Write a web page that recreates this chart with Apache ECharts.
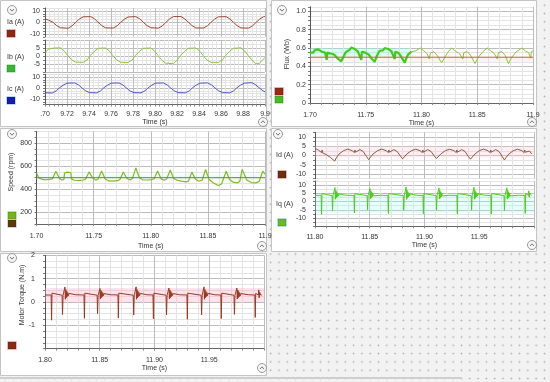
<!DOCTYPE html>
<html><head><meta charset="utf-8">
<script src="https://cdn.jsdelivr.net/npm/echarts@6/dist/echarts.min.js"></script>
<style>
html,body{margin:0;padding:0;background:#f2f2f2;}
#c{width:550px;height:382px;background-color:#f2f2f2;background-image:radial-gradient(circle,#b0b0b0 0.7px,rgba(0,0,0,0) 1.1px);background-size:8.3px 8.3px;background-position:1px 1px;}
</style></head><body><div id="c"></div>
<script>
// ---------- data ----------
const iaData = [[9.700,3.2],[9.7035,1.8],[9.7071,0.3],[9.7106,-2.8],[9.7141,-4.7],[9.7211,-5.1],[9.7246,-3.0],[9.7276,-0.3],[9.7311,2.8],[9.7346,4.8],[9.7416,5.0],[9.7451,3.0],[9.7481,0.3],[9.7516,-2.8],[9.7551,-4.8],[9.7621,-4.9],[9.7656,-3.0],[9.7686,-0.2],[9.7721,2.7],[9.7756,4.7],[9.7826,5.0],[9.7861,3.1],[9.7891,0.3],[9.7926,-2.7],[9.7961,-4.6],[9.8031,-5.0],[9.8066,-3.1],[9.8096,-0.3],[9.8131,2.9],[9.8166,5.0],[9.8236,5.1],[9.8271,3.0],[9.8301,0.4],[9.8336,-2.8],[9.8371,-4.8],[9.8441,-4.9],[9.8476,-3.0],[9.8506,-0.3],[9.8541,2.8],[9.8576,4.8],[9.8646,5.0],[9.8681,3.0],[9.8711,0.3],[9.8746,-2.8],[9.8781,-4.8],[9.8851,-5.0],[9.8886,-3.0],[9.8916,-0.3],[9.8951,2.8],[9.8986,4.9],[9.900,5.0]];
const ibData = [[9.700,2.2],[9.7035,4.4],[9.7072,4.9],[9.7142,5.1],[9.7177,3.0],[9.7207,0.3],[9.7242,-2.4],[9.7277,-3.8],[9.7347,-4.0],[9.7382,-2.5],[9.7412,0.3],[9.7447,2.8],[9.7482,4.8],[9.7552,5.0],[9.7587,3.0],[9.7617,0.3],[9.7652,-2.5],[9.7687,-3.9],[9.7757,-4.0],[9.7792,-2.5],[9.7822,0.3],[9.7857,2.8],[9.7892,4.8],[9.7962,5.0],[9.7997,3.0],[9.8027,0.3],[9.8062,-2.6],[9.8097,-4.5],[9.8167,-4.8],[9.8202,-2.6],[9.8232,0.3],[9.8267,2.8],[9.8302,4.8],[9.8372,5.0],[9.8407,3.0],[9.8437,0.3],[9.8472,-2.5],[9.8507,-3.9],[9.8577,-4.0],[9.8612,-2.5],[9.8642,0.3],[9.8677,2.8],[9.8712,4.8],[9.8782,5.1],[9.8817,3.0],[9.8847,0.3],[9.8882,-2.6],[9.8917,-4.9],[9.8947,-4.6],[9.900,-1.0]];
const icData = [[9.700,-4.3],[9.7067,-4.5],[9.7102,-2.6],[9.7132,0.2],[9.7165,2.6],[9.720,4.4],[9.727,4.6],[9.7305,2.8],[9.7335,0.2],[9.737,-2.6],[9.7405,-4.2],[9.747,-4.4],[9.7505,-2.6],[9.7535,0.2],[9.7568,2.6],[9.7603,4.4],[9.7673,4.6],[9.7708,2.8],[9.7738,0.2],[9.7773,-2.6],[9.7808,-4.2],[9.7873,-4.4],[9.7908,-2.6],[9.7938,0.2],[9.7971,2.6],[9.8006,4.4],[9.8076,4.6],[9.8111,2.8],[9.8141,0.2],[9.8176,-2.6],[9.8211,-4.2],[9.8276,-4.4],[9.8311,-2.6],[9.8341,0.2],[9.8374,2.6],[9.8409,4.4],[9.8479,4.6],[9.8514,2.8],[9.8544,0.2],[9.8579,-2.6],[9.8614,-4.2],[9.8679,-4.4],[9.8714,-2.6],[9.8744,0.2],[9.8777,2.6],[9.8812,4.4],[9.8882,4.8],[9.8917,2.8],[9.8947,0.2],[9.8982,-2.6],[9.900,-3.5]];

const fluxRef = [[11.70,0.5],[11.90,0.5]];
const fluxNoisy = [[11.700,0.55],[11.7015,0.57],[11.703,0.55],[11.7045,0.58],[11.706,0.56],[11.7075,0.585],[11.709,0.58],[11.7105,0.56],[11.712,0.57],[11.7135,0.55],[11.715,0.47],[11.7155,0.55],[11.717,0.56],[11.7185,0.54],[11.720,0.555],[11.7215,0.53],[11.723,0.52],[11.7245,0.49],[11.726,0.48],[11.728,0.455],[11.7295,0.49],[11.731,0.53],[11.7325,0.56],[11.734,0.575],[11.7355,0.58],[11.737,0.605],[11.7385,0.585],[11.740,0.59],[11.7415,0.57],[11.743,0.56],[11.7445,0.55],[11.746,0.47],[11.7465,0.56],[11.748,0.57],[11.7495,0.55],[11.751,0.56],[11.7525,0.53],[11.754,0.51],[11.7555,0.48],[11.758,0.45],[11.7595,0.5],[11.761,0.54],[11.7625,0.57],[11.764,0.58],[11.7655,0.575],[11.767,0.6],[11.7685,0.58],[11.770,0.59],[11.7715,0.57],[11.773,0.565],[11.7745,0.55],[11.776,0.48],[11.7765,0.56],[11.778,0.57],[11.7795,0.545],[11.781,0.52],[11.7825,0.49],[11.785,0.44],[11.7865,0.49],[11.788,0.53],[11.7895,0.55],[11.791,0.56]];
const fluxClean = [[11.791,0.56],[11.795,0.57],[11.799,0.6],[11.802,0.57],[11.805,0.54],[11.807,0.48],[11.808,0.545],[11.811,0.56],[11.814,0.52],[11.818,0.44],[11.821,0.5],[11.824,0.56],[11.827,0.6],[11.830,0.57],[11.834,0.54],[11.837,0.48],[11.838,0.55],[11.841,0.56],[11.844,0.52],[11.848,0.43],[11.851,0.5],[11.855,0.56],[11.859,0.6],[11.862,0.57],[11.865,0.545],[11.868,0.48],[11.869,0.55],[11.872,0.56],[11.875,0.52],[11.878,0.43],[11.881,0.5],[11.885,0.56],[11.890,0.6],[11.893,0.57],[11.896,0.55],[11.898,0.49],[11.8985,0.56],[11.900,0.57]];

const speedRef = [[11.70,500],[11.90,500]];
const speedData = [[11.700,540],[11.702,500],[11.705,485],[11.708,482],[11.711,486],[11.714,490],[11.717,556],[11.720,495],[11.722,480],[11.724,484],[11.7245,540],[11.727,548],[11.730,545],[11.7305,492],[11.733,478],[11.737,475],[11.741,480],[11.743,488],[11.746,550],[11.749,500],[11.752,478],[11.754,490],[11.757,558],[11.760,490],[11.763,472],[11.767,470],[11.771,474],[11.773,485],[11.776,550],[11.779,495],[11.782,480],[11.784,495],[11.787,585],[11.790,500],[11.793,482],[11.797,480],[11.801,484],[11.803,492],[11.806,558],[11.809,490],[11.812,478],[11.814,490],[11.817,566],[11.820,495],[11.823,478],[11.827,470],[11.831,464],[11.833,470],[11.836,550],[11.839,488],[11.842,470],[11.845,478],[11.848,572],[11.851,485],[11.855,455],[11.859,432],[11.862,445],[11.866,556],[11.869,485],[11.872,462],[11.876,456],[11.878,470],[11.880,572],[11.884,480],[11.888,458],[11.892,455],[11.895,470],[11.898,556],[11.900,530]];

const idData = [[11.800,3.8],[11.803,3.0],[11.806,1.6],[11.8065,3.0],[11.807,1.4],[11.810,0.6],[11.814,-1.0],[11.818,-3.0],
[11.8195,-1.2],[11.822,0.8],[11.826,2.6],[11.830,3.5],[11.834,2.6],[11.836,1.6],[11.8365,3.0],[11.837,1.8],[11.841,3.2],[11.844,2.2],[11.847,-0.5],[11.849,-2.2],
[11.8505,-1.0],[11.853,0.8],[11.857,2.6],[11.861,3.5],[11.865,2.6],[11.867,1.6],[11.8675,3.0],[11.868,1.8],[11.872,3.2],[11.875,2.2],[11.878,-0.3],[11.880,-1.8],
[11.8815,-0.8],[11.884,0.9],[11.888,2.6],[11.892,3.4],[11.896,2.6],[11.898,1.6],[11.8985,3.0],[11.899,1.8],[11.903,3.2],[11.906,2.2],[11.909,-0.3],[11.911,-1.6],
[11.9125,-0.6],[11.915,0.9],[11.919,2.6],[11.923,3.4],[11.927,2.6],[11.929,1.6],[11.9295,3.0],[11.930,1.8],[11.934,3.2],[11.937,2.2],[11.940,-0.5],[11.942,-2.0],
[11.9435,-0.9],[11.946,0.8],[11.950,2.6],[11.954,3.5],[11.958,2.6],[11.960,1.6],[11.9605,3.0],[11.961,1.8],[11.965,3.2],[11.968,2.2],[11.971,-0.6],[11.973,-2.4],
[11.9745,-1.0],[11.977,0.8],[11.981,2.6],[11.985,3.4],[11.989,2.6],[11.991,1.6],[11.9915,3.0],[11.992,1.8],[11.996,2.4],[11.998,0.8]];

const iqData = [[11.800,3.7],[11.8056,3.8],[11.806,-7.8],[11.8064,4.8],[11.807,3.9],
[11.8156,3.6],[11.816,-5.4],[11.8165,3.6],[11.8178,3.7],[11.8182,8.4],[11.8186,1.4],[11.819,6.9],[11.8194,2.1],[11.8198,5.9],[11.8203,2.8],[11.8208,5.1],[11.8214,3.3],[11.822,4.6],[11.8232,4.1],[11.828,3.8],
[11.8356,3.7],[11.836,-6.9],[11.8364,4.7],[11.837,3.9],
[11.8476,3.6],[11.848,-5.0],[11.8485,3.6],[11.8498,3.7],[11.8502,7.9],[11.8506,1.6],[11.851,6.6],[11.8514,2.2],[11.8518,5.7],[11.8523,2.9],[11.8528,5.0],[11.8534,3.4],[11.854,4.5],[11.8552,4.1],[11.860,3.8],
[11.8666,3.7],[11.867,-7.3],[11.8674,4.8],[11.868,3.9],
[11.8806,3.6],[11.881,-5.3],[11.8815,3.6],[11.8828,3.7],[11.8832,8.8],[11.8836,1.3],[11.884,7.0],[11.8844,2.0],[11.8848,5.9],[11.8853,2.8],[11.8858,5.1],[11.8864,3.3],[11.887,4.6],[11.8882,4.1],[11.893,3.8],
[11.8986,3.7],[11.899,-7.4],[11.8994,4.8],[11.900,3.9],
[11.9106,3.6],[11.911,-5.3],[11.9115,3.6],[11.9128,3.7],[11.9132,8.2],[11.9136,1.5],[11.914,6.8],[11.9144,2.1],[11.9148,5.8],[11.9153,2.8],[11.9158,5.0],[11.9164,3.4],[11.917,4.5],[11.9182,4.1],[11.923,3.8],
[11.9296,3.7],[11.930,-7.5],[11.9304,4.8],[11.931,3.9],
[11.9426,3.6],[11.943,-5.2],[11.9435,3.6],[11.9448,3.7],[11.9452,8.6],[11.9456,1.4],[11.946,6.9],[11.9464,2.0],[11.9468,5.9],[11.9473,2.8],[11.9478,5.1],[11.9484,3.3],[11.949,4.6],[11.9502,4.1],[11.955,3.8],
[11.9606,3.7],[11.961,-7.6],[11.9614,4.8],[11.962,3.9],
[11.9726,3.6],[11.973,-5.4],[11.9735,3.6],[11.9748,3.7],[11.9752,8.3],[11.9756,1.5],[11.976,6.8],[11.9764,2.1],[11.9768,5.8],[11.9773,2.8],[11.9778,5.0],[11.9784,3.4],[11.979,4.5],[11.9802,4.1],[11.986,3.8],
[11.9916,3.7],[11.992,-7.2],[11.9924,4.7],[11.993,3.9],
[11.9948,3.8],[11.9952,6.5],[11.9956,2.6],[11.996,5.0],[11.997,3.8],[11.998,3.7]];

const torqueData = [[11.800,0.30],[11.8056,0.30],[11.806,-0.78],[11.8064,0.38],[11.807,0.31],
[11.8156,0.29],[11.816,-0.54],[11.8165,0.29],[11.8178,0.30],[11.8182,0.64],[11.8186,0.12],[11.819,0.54],[11.8194,0.18],[11.8198,0.47],[11.8203,0.23],[11.8208,0.41],[11.8214,0.27],[11.822,0.37],[11.8232,0.34],[11.828,0.31],
[11.8356,0.30],[11.836,-0.70],[11.8364,0.38],[11.837,0.31],
[11.8476,0.29],[11.848,-0.50],[11.8485,0.29],[11.8498,0.30],[11.8502,0.58],[11.8506,0.13],[11.851,0.50],[11.8514,0.18],[11.8518,0.45],[11.8523,0.23],[11.8528,0.40],[11.8534,0.27],[11.854,0.36],[11.8552,0.34],[11.860,0.31],
[11.8666,0.30],[11.867,-0.69],[11.8674,0.38],[11.868,0.31],
[11.8806,0.29],[11.881,-0.56],[11.8815,0.29],[11.8828,0.30],[11.8832,0.65],[11.8836,0.12],[11.884,0.54],[11.8844,0.18],[11.8848,0.47],[11.8853,0.23],[11.8858,0.41],[11.8864,0.27],[11.887,0.37],[11.8882,0.34],[11.893,0.31],
[11.8986,0.30],[11.899,-0.72],[11.8994,0.38],[11.900,0.31],
[11.9106,0.29],[11.911,-0.55],[11.9115,0.29],[11.9128,0.30],[11.9132,0.60],[11.9136,0.13],[11.914,0.52],[11.9144,0.18],[11.9148,0.46],[11.9153,0.23],[11.9158,0.40],[11.9164,0.27],[11.917,0.36],[11.9182,0.34],[11.923,0.31],
[11.9296,0.30],[11.930,-0.74],[11.9304,0.38],[11.931,0.31],
[11.9426,0.29],[11.943,-0.55],[11.9435,0.29],[11.9448,0.30],[11.9452,0.65],[11.9456,0.12],[11.946,0.54],[11.9464,0.18],[11.9468,0.47],[11.9473,0.23],[11.9478,0.41],[11.9484,0.27],[11.949,0.37],[11.9502,0.34],[11.955,0.31],
[11.9606,0.30],[11.961,-0.71],[11.9614,0.38],[11.962,0.31],
[11.9726,0.29],[11.973,-0.53],[11.9735,0.29],[11.9748,0.30],[11.9752,0.60],[11.9756,0.13],[11.976,0.52],[11.9764,0.18],[11.9768,0.46],[11.9773,0.23],[11.9778,0.40],[11.9784,0.27],[11.979,0.36],[11.9802,0.34],[11.986,0.31],
[11.9916,0.30],[11.992,-0.66],[11.9924,0.37],[11.993,0.31],
[11.9948,0.30],[11.9952,0.52],[11.9956,0.18],[11.996,0.42],[11.997,0.30],[11.998,0.30]];

// tick labels
const iaTicks = [10, 0, -10];
const ibTicks = [5, 0, -5];
const icTicks = [10, 0, -10];
const speedTicks = [200, 400, 600, 800];
const idTicks = [10, 5, 0, -5, -10];
const iqTicks = [10, 5, 0, -5, -10];
const torqueTicks = [2, 1, 0, -1];

// ---------- styling helpers ----------
const FONT = '"Liberation Sans", Arial, sans-serif';
const MAJ = '#bcbcbc', MIN = '#e4e4e4';
const TXT = '#333';
function cols(p){ return p.split('').map(c => c === 'M' ? MAJ : MIN); }
function pick(list){ return v => { const r = Math.round(v*1000)/1000; return list.indexOf(r) >= 0 ? String(r) : ''; }; }

function xAx(gi, min, max, step, pat, fmt, lab, margin, gap){
  return {type:'value', gridIndex:gi, min:min, max:max, interval:step,
    axisLine:{show:lab, onZero:false, lineStyle:{color:'#666', width:1}},
    axisTick:{show:lab, length:2, lineStyle:{color:'#888'}},
    axisLabel:{show:lab, formatter:fmt, fontSize:7, color:TXT, margin:margin, fontFamily:FONT},
    splitLine:{show:true, lineStyle:{color:cols(pat), width:1}},
    name: lab ? 'Time (s)' : '', nameLocation:'middle', nameGap:gap,
    nameTextStyle:{fontSize:7, color:TXT, fontFamily:FONT}};
}
function yAx(gi, min, max, step, pat, fmt, margin){
  return {type:'value', gridIndex:gi, min:min, max:max, interval:step,
    axisLine:{show:true, onZero:false, lineStyle:{color:'#555', width:1}},
    axisTick:{show:true, length:2, lineStyle:{color:'#777'}},
    axisLabel:{formatter:fmt, fontSize:7, color:TXT, margin:margin, fontFamily:FONT},
    splitLine:{show:true, lineStyle:{color:cols(pat), width:1}}};
}
const fmtA = v => { const k = Math.round(v*1000); if (k % 20) return ''; if (k === 9700) return '.70'; if (k === 9900) return '9.9'; return (k/1000).toFixed(2); };
const fmtB = v => { const k = Math.round(v*100); if (k % 5) return ''; if (k === 1170) return '1.70'; if (k === 1190) return '11.9'; return (k/100).toFixed(2); };
const fmtD = v => { const k = Math.round(v*100); if (k % 5 || k === 1200) return ''; return (k/100).toFixed(2); };
const fmtE = v => { const k = Math.round(v*100); if (k % 5 || k === 1200) return ''; if (k === 1180) return '1.80'; return (k/100).toFixed(2); };
const fmtFlux = v => { const k = Math.round(v*100); if (k % 20) return ''; return k === 0 ? '0' : (k/100).toFixed(1); };

function line(xi, data, color, width, z){
  return {type:'line', xAxisIndex:xi, yAxisIndex:xi, data:data, showSymbol:false, symbol:'none',
    lineStyle:{color:color, width:width||1}, z:z||3, animation:false};
}
function band(x0,x1,y0,y1,color){ return {silent:true, itemStyle:{color:color}, data:[[{xAxis:x0,yAxis:y0},{xAxis:x1,yAxis:y1}]]}; }

// ---------- decorations ----------
const g = [];
function panel(x,y,w,h){ g.push({type:'rect', z:-100, shape:{x:x,y:y,width:w,height:h}, style:{fill:'#ffffff', stroke:'#c4c4c4', lineWidth:1}}); }
panel(0.5,0.5,266,126); panel(271.5,0.5,265,126);
panel(0.5,128.5,266,123); panel(271.5,128.5,265,123);
panel(0.5,253.5,266,122);
g.push({type:'rect', z:-90, shape:{x:0,y:377,width:462,height:2}, style:{fill:'#cfcfcf'}});
function btn(cx,cy,down){
  g.push({type:'circle', z:50, shape:{cx:cx,cy:cy,r:4.5}, style:{fill:'#f6f6f6', stroke:'#9a9a9a', lineWidth:1}});
  const d = down ? 1 : -1;
  g.push({type:'polyline', z:51, shape:{points:[[cx-2,cy-1*d],[cx,cy+1.2*d],[cx+2,cy-1*d]]}, style:{stroke:'#777', lineWidth:1, fill:null}});
}
btn(12,10,true); btn(263,122,false);
btn(282,10,true); btn(532,122,false);
btn(12,134,true); btn(262,246,false);
btn(278,134,true); btn(532,245,false);
btn(12,258,true); btn(262,368,false);
function icon(x,y,fill,halo){
  g.push({type:'rect', z:50, shape:{x:x-1,y:y-1,width:10,height:9}, style:{fill:halo}});
  g.push({type:'rect', z:51, shape:{x:x,y:y,width:8,height:7}, style:{fill:fill, stroke:'rgba(0,0,0,0.35)', lineWidth:0.5}});
}
function txt(x,y,s,rot){
  g.push({type:'text', z:52, x:x, y:y, rotation:rot||0,
    style:{text:s, fontSize:7, fill:TXT, fontFamily:FONT, align: rot ? 'center' : 'left', verticalAlign:'middle'}});
}
txt(7,22,'Ia (A)'); icon(7,30,'#8b2a10','#ffc8d8');
txt(7,57,'Ib (A)'); icon(7,65,'#36b836','#d8ffd8');
txt(7,89,'Ic (A)'); icon(7,97,'#1a1ab4','#c8f4ff');
txt(287,54,'Flux (Wb)',Math.PI/2); icon(275,88,'#9a2a10','#ffb8d0'); icon(275,96,'#48bb22','#d0ffd0');
txt(11,172,'Speed (rpm)',Math.PI/2); icon(8,212,'#7ab317','#b8fff0'); icon(8,220,'#5a3a10','#e8e8e8');
txt(276,155,'Id (A)'); icon(278,171,'#6b3010','#ffc8d8');
txt(276,204,'Iq (A)'); icon(278,219,'#6cb820','#b8fff0');
txt(22,295,'Motor Torque (N.m)',Math.PI/2); icon(8,342,'#8b2a10','#ffc8d8');

// ---------- chart ----------
const chart = echarts.init(document.getElementById('c'), null, {renderer:'canvas'});
const gridBase = {show:true, backgroundColor:'#ffffff', borderWidth:0};
chart.setOption({
  animation:false,
  backgroundColor:'transparent',
  graphic:{elements:g},
  grid:[
    Object.assign({left:45, top:8, width:220, height:28.75}, gridBase),
    Object.assign({left:45, top:40, width:220, height:32}, gridBase),
    Object.assign({left:45, top:74.25, width:220, height:30.25}, gridBase),
    Object.assign({left:310, top:6.8, width:223, height:96.2}, gridBase),
    Object.assign({left:36.5, top:131.5, width:228.5, height:92.4}, gridBase),
    Object.assign({left:315, top:132.4, width:219, height:46.25}, gridBase),
    Object.assign({left:315, top:180.9, width:219, height:45.4}, gridBase),
    Object.assign({left:45, top:255.4, width:219, height:93.2}, gridBase)
  ],
  xAxis:[
    xAx(0, 9.70, 9.90, 0.004, 'Mmmmm', fmtA, false, 6, 15),
    xAx(1, 9.70, 9.90, 0.004, 'Mmmmm', fmtA, false, 6, 15),
    xAx(2, 9.70, 9.90, 0.004, 'Mmmmm', fmtA, true, 6, 14),
    xAx(3, 11.70, 11.90, 0.01, 'Mmmmm', fmtB, true, 8.5, 16),
    xAx(4, 11.70, 11.90, 0.01, 'Mmmmm', fmtB, true, 9, 19),
    xAx(5, 11.80, 12.00, 0.01, 'Mmmmm', fmtD, false, 7, 15),
    xAx(6, 11.80, 12.00, 0.01, 'Mmmmm', fmtD, true, 7, 15),
    xAx(7, 11.80, 12.00, 0.01, 'Mmmmm', fmtE, true, 8, 16)
  ],
  yAxis:[
    yAx(0, -12.5, 12.5, 2.5, 'mMmm', pick(iaTicks), 5),
    yAx(1, -10, 10, 2.5, 'Mm', pick(ibTicks), 5),
    yAx(2, -15, 12.5, 2.5, 'mmMm', pick(icTicks), 5),
    yAx(3, 0, 1.05, 0.05, 'Mmmm', fmtFlux, 4),
    yAx(4, 100, 900, 50, 'mmMm', pick(speedTicks), 4.5),
    yAx(5, -12.5, 12.5, 2.5, 'mM', pick(idTicks), 9),
    yAx(6, -15, 12.5, 2.5, 'Mm', pick(iqTicks), 9),
    yAx(7, -2, 2, 0.25, 'Mmmm', pick(torqueTicks), 10)
  ],
  series:[
    line(0, iaData, '#a04830', 1),
    line(1, ibData, '#8cc43c', 1),
    line(2, icData, '#5252c8', 1),
    Object.assign(line(3, fluxNoisy, '#3fcc1c', 2.2), {markArea: band(11.70, 11.79, 0.5, 0.6, 'rgba(150,255,225,0.35)')}),
    Object.assign(line(3, fluxClean, '#8cc43c', 1), {markArea: band(11.70, 11.90, 0.45, 0.5, 'rgba(255,205,220,0.3)')}),
    line(3, fluxRef, '#c8642a', 1, 4),
    Object.assign(line(4, speedData, '#7cbf24', 1.2), {markArea: band(11.70, 11.90, 480, 530, 'rgba(170,255,235,0.22)')}),
    line(4, speedRef, '#8b7b30', 1, 4),
    Object.assign(line(5, idData, '#8b5a3c', 1), {markArea: band(11.80, 12.0, -1, 5, 'rgba(255,200,215,0.3)')}),
    Object.assign(line(6, iqData, '#4ccc1c', 1), {markArea: band(11.80, 12.0, -7, 4, 'rgba(170,255,240,0.28)')}),
    Object.assign(line(7, torqueData, '#9a3a20', 1), {markArea: band(11.80, 12.0, 0, 0.6, 'rgba(255,175,200,0.35)')})
  ]
});
</script></body></html>
